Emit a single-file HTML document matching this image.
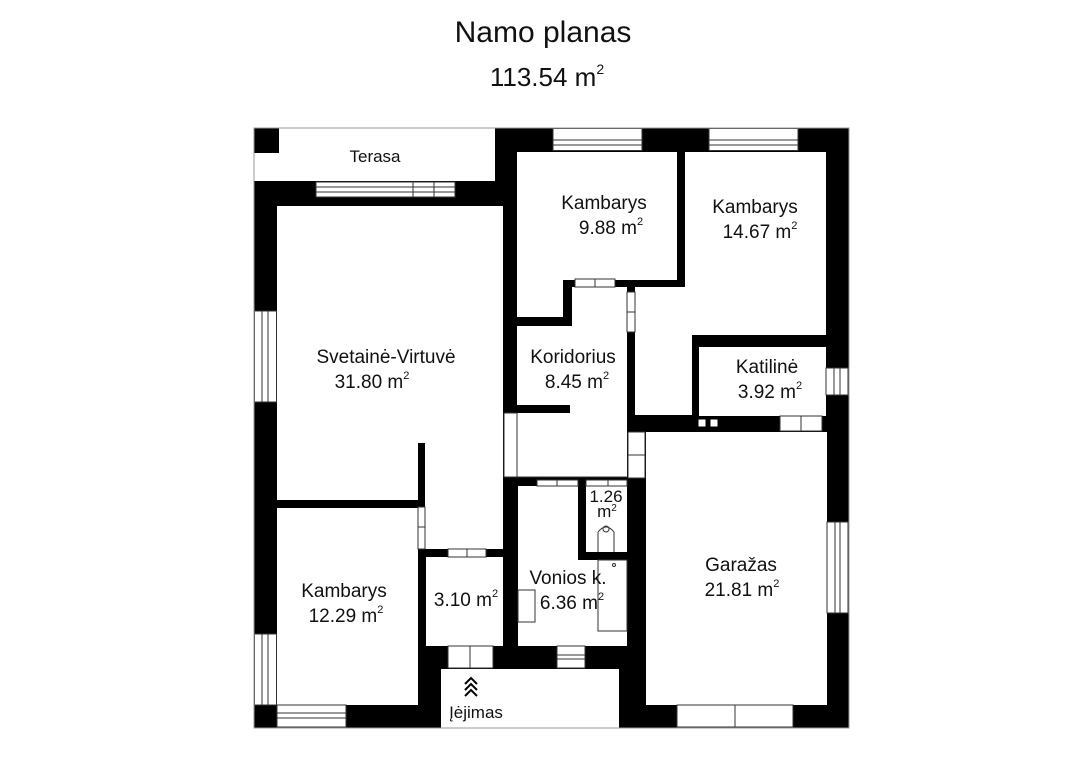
<!DOCTYPE html>
<html><head><meta charset="utf-8"><style>
html,body{margin:0;padding:0;background:#fff;width:1086px;height:768px;overflow:hidden}
svg{display:block}
text{font-family:"Liberation Sans",sans-serif;fill:#111}
</style></head><body>
<svg width="1086" height="768" viewBox="0 0 1086 768">
<text x="543" y="42" font-size="30" text-anchor="middle">Namo planas</text>
<text x="547" y="86" font-size="26" text-anchor="middle">113.54 m<tspan font-size="14" dy="-12">2</tspan></text>

<rect x="254" y="128" width="595" height="600" fill="#000"/>
<g fill="#fff">
<rect x="279" y="128" width="216" height="53"/>
<rect x="254" y="153" width="25" height="28"/>
<rect x="277" y="206" width="226" height="294"/>
<rect x="425" y="500" width="78" height="49"/>
<rect x="517" y="152" width="160" height="128"/>
<rect x="517" y="280" width="46" height="37"/>
<rect x="685" y="152" width="141" height="183"/>
<rect x="635" y="287" width="191" height="48"/>
<rect x="635" y="335" width="57" height="80"/>
<rect x="572" y="287" width="55" height="190"/>
<rect x="517" y="326" width="55" height="151"/>
<rect x="699" y="347" width="127" height="69"/>
<rect x="646" y="432" width="181" height="273"/>
<rect x="277" y="508" width="141" height="197"/>
<rect x="426" y="557" width="77" height="89"/>
<rect x="518" y="486" width="60" height="160"/>
<rect x="578" y="560" width="49" height="86"/>
<rect x="586" y="486" width="41" height="66"/>
<rect x="441" y="669" width="178" height="59"/>
</g>
<rect x="517" y="405" width="53" height="8" fill="#000"/>
<rect x="418" y="443" width="7" height="57" fill="#000"/>

<g fill="#fff" stroke="#333" stroke-width="1">
<rect x="316" y="182" width="139" height="15"/>
<line x1="316" y1="187" x2="455" y2="187"/><line x1="316" y1="192" x2="455" y2="192"/>
<line x1="413" y1="182" x2="413" y2="197"/><line x1="434" y1="182" x2="434" y2="197"/>
<rect x="254.5" y="311" width="22" height="91"/>
<line x1="262" y1="311" x2="262" y2="402"/><line x1="268" y1="311" x2="268" y2="402"/>
<rect x="553" y="128.5" width="89" height="22"/>
<line x1="553" y1="140" x2="642" y2="140"/><line x1="553" y1="145" x2="642" y2="145"/>
<rect x="709" y="128.5" width="89" height="22"/>
<line x1="709" y1="140" x2="798" y2="140"/><line x1="709" y1="145" x2="798" y2="145"/>
<rect x="826" y="368" width="22" height="27"/>
<line x1="834" y1="368" x2="834" y2="395"/><line x1="840" y1="368" x2="840" y2="395"/>
<rect x="827" y="522" width="21" height="91"/>
<line x1="835" y1="522" x2="835" y2="613"/><line x1="840" y1="522" x2="840" y2="613"/>
<rect x="677" y="705" width="116" height="22"/>
<line x1="735" y1="705" x2="735" y2="727"/>
<rect x="277" y="705" width="69" height="22"/>
<line x1="277" y1="713" x2="346" y2="713"/><line x1="277" y1="718" x2="346" y2="718"/>
<rect x="254.5" y="634" width="22" height="71"/>
<line x1="262" y1="634" x2="262" y2="705"/><line x1="268" y1="634" x2="268" y2="705"/>
<rect x="504" y="413" width="13" height="64"/>
<rect x="418" y="507" width="7" height="42"/><line x1="418" y1="527" x2="425" y2="527"/>
<rect x="575" y="279" width="40" height="8"/><line x1="595" y1="279" x2="595" y2="287"/>
<rect x="627" y="292" width="8" height="40"/><line x1="627" y1="312" x2="635" y2="312"/>
<rect x="628" y="432" width="17" height="46"/><line x1="628" y1="455" x2="645" y2="455"/>
<rect x="780" y="416" width="42" height="15"/><line x1="801" y1="416" x2="801" y2="431"/>
<rect x="448" y="549" width="38" height="8"/><line x1="467" y1="549" x2="467" y2="557"/>
<rect x="448" y="646" width="45" height="22"/><line x1="470" y1="646" x2="470" y2="668"/>
<rect x="537" y="480" width="41" height="6"/><line x1="557" y1="480" x2="557" y2="486"/>
<rect x="586" y="480" width="41" height="6"/><line x1="608" y1="480" x2="608" y2="486"/>
<rect x="557" y="646" width="28" height="22"/>
<line x1="557" y1="655" x2="585" y2="655"/><line x1="557" y1="659" x2="585" y2="659"/>
<line x1="517" y1="477" x2="627" y2="477"/>
<rect x="598" y="560" width="29" height="71" fill="none"/>
<rect x="518" y="590" width="17" height="32" fill="none"/>
<path d="M598 552 V532 Q606 522 614 532 V552" fill="none"/>
<circle cx="606" cy="529" r="3" fill="none"/>
<circle cx="614" cy="565" r="1.5" fill="none"/>
</g>
<g fill="#fff" stroke="#000"><rect x="698" y="419" width="8" height="8"/><rect x="710" y="419" width="8" height="8"/></g>
<rect x="254" y="128" width="595" height="600" fill="none" stroke="#999" stroke-width="1"/>

<g font-size="19" text-anchor="middle">
<text x="375" y="162" font-size="17">Terasa</text>
<text x="386" y="363">Svetainė-Virtuvė</text>
<text x="372" y="388">31.80 m<tspan font-size="11" dy="-9">2</tspan></text>
<text x="604" y="209">Kambarys</text>
<text x="611" y="234">9.88 m<tspan font-size="11" dy="-9">2</tspan></text>
<text x="755" y="213">Kambarys</text>
<text x="760" y="238">14.67 m<tspan font-size="11" dy="-9">2</tspan></text>
<text x="573" y="363">Koridorius</text>
<text x="577" y="388">8.45 m<tspan font-size="11" dy="-9">2</tspan></text>
<text x="767" y="373">Katilinė</text>
<text x="770" y="398">3.92 m<tspan font-size="11" dy="-9">2</tspan></text>
<text x="741" y="571">Garažas</text>
<text x="742" y="596">21.81 m<tspan font-size="11" dy="-9">2</tspan></text>
<text x="344" y="597">Kambarys</text>
<text x="346" y="622">12.29 m<tspan font-size="11" dy="-9">2</tspan></text>
<text x="466" y="606">3.10 m<tspan font-size="11" dy="-9">2</tspan></text>
<text x="568" y="584">Vonios k.</text>
<text x="572" y="609">6.36 m<tspan font-size="11" dy="-9">2</tspan></text>
<text x="606" y="502" font-size="17">1.26</text>
<text x="607" y="517" font-size="17">m<tspan font-size="10" dy="-6">2</tspan></text>
<text x="476" y="718" font-size="17">Įėjimas</text>
</g>
<path d="M465 684 L471 678 L477 684 M465 690 L471 684 L477 690 M465 696 L471 690 L477 696" fill="none" stroke="#000" stroke-width="2"/>
</svg>
</body></html>
